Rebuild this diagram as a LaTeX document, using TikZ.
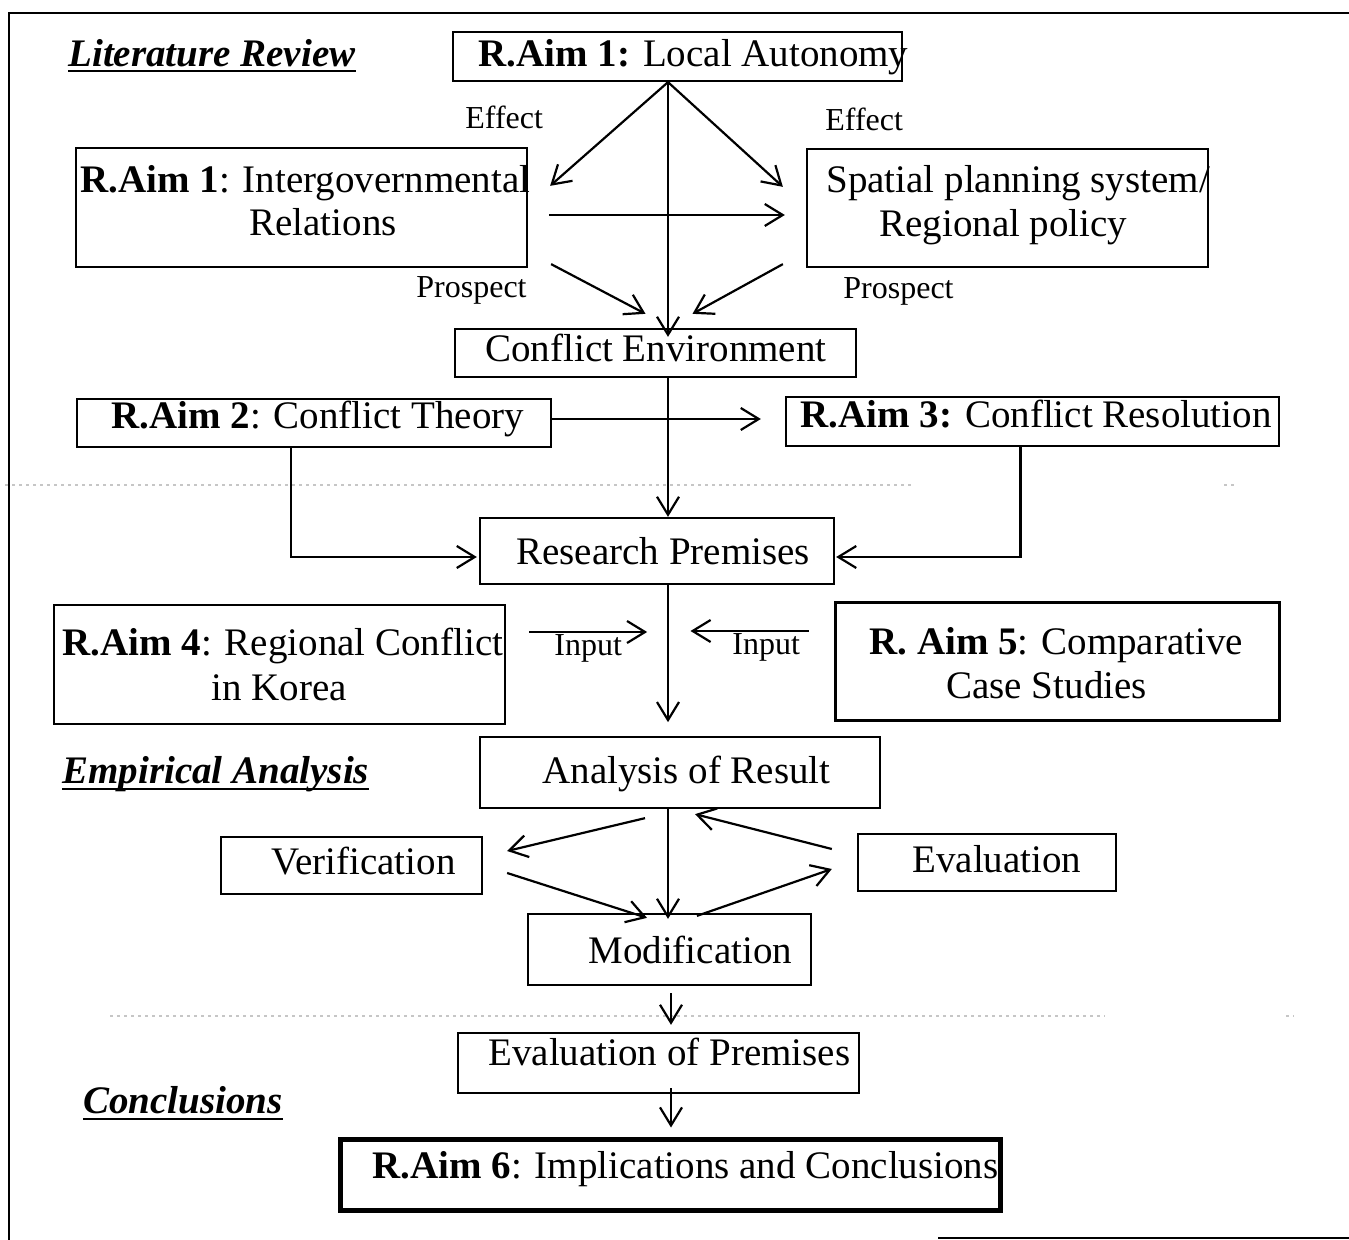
\documentclass[tikz,border=0pt]{standalone}
\usepackage{fontspec}
\setmainfont{Liberation Serif}
\usetikzlibrary{arrows.meta,calc,fit}
\newcommand\bodysize{\fontsize{19.5pt}{22.5pt}\selectfont}
\newcommand\labelsize{\fontsize{16pt}{18pt}\selectfont}
\begin{document}
\begin{tikzpicture}[x=0.5pt,y=-0.5pt,
  box/.style={draw, line width=1.15pt, inner sep=0pt, rectangle},
  txt/.style={font=\bodysize, inner sep=0pt, anchor=base west},
  lbl/.style={font=\labelsize, inner sep=0pt, anchor=base west},
  head/.style={font=\bodysize\bfseries\itshape, inner sep=0pt, anchor=base west},
  arr/.style={line width=1.1pt, -{Straight Barb[length=9pt,width=11pt]}},
  uline/.style={line width=1.1pt},
  frame/.style={line width=1.1pt},
  scanline/.style={gray!45, line width=0.6pt, dash pattern=on 1.5pt off 2pt}]
\useasboundingbox (0,0) rectangle (1349,1240);

% outer frame
\draw[frame] (1349,13) -- (9,13) -- (9,1240);
\draw[frame] (938,1238) -- (1349,1238);

% faint separator traces
\draw[scanline] (5,485) -- (915,485);
\draw[scanline] (1224,485) -- (1236,485);
\draw[scanline] (110,1016) -- (1105,1016);
\draw[scanline] (1286,1016) -- (1294,1016);

% boxes
\node[box, fit={(453,32) (902,81)}] (a1) {};
\node[box, fit={(76,148) (527,267)}] (igr) {};
\node[box, fit={(807,149) (1208,267)}] (sps) {};
\node[box, fit={(455,329) (856,377)}] (ce) {};
\node[box, fit={(77,399) (551,447)}] (a2) {};
\node[box, fit={(786,397) (1279,446)}] (a3) {};
\node[box, fit={(480,518) (834,584)}] (rp) {};
\node[box, fit={(54,605) (505,724)}] (a4) {};
\node[box, line width=1.5pt, fit={(835,603) (1279,720)}] (a5) {};
\node[box, fit={(480,737) (880,808)}] (ar) {};
\node[box, fit={(221,837) (482,894)}] (ver) {};
\node[box, fit={(858,834) (1116,891)}] (eva) {};
\node[box, fit={(528,914) (811,985)}] (mod) {};
\node[box, fit={(458,1033) (859,1093)}] (ep) {};
\node[box, line width=2.5pt, fit={(340,1139) (1000,1210)}] (a6) {};

% box texts
\node[txt] (a1t) at (478,67) {\textbf{R.Aim 1:} Local Autonomy};
\node[txt] (igr1) at (80,193) {\textbf{R.Aim 1}: Intergovernmental};
\node[txt] (igr2) at (249,236) {Relations};
\node[txt] (sps1) at (826,193) {Spatial planning system/};
\node[txt] (sps2) at (879,237) {Regional policy};
\node[txt] (cet) at (485,362) {Conflict Environment};
\node[txt] (a2t) at (111,429) {\textbf{R.Aim 2}: Conflict Theory};
\node[txt] (a3t) at (800,428) {\textbf{R.Aim 3:} Conflict Resolution};
\node[txt] (rpt) at (516,565) {Research Premises};
\node[txt] (a4a) at (62,655) {\textbf{R.Aim 4}: Regional Conflict};
\node[txt] (a4b) at (211,700) {in Korea};
\node[txt] (a5a) at (869,654) {\textbf{R. Aim 5}: Comparative};
\node[txt] (a5b) at (946,698) {Case Studies};
\node[txt] (art) at (542,783) {Analysis of Result};
\node[txt] (vert) at (271,874) {Verification};
\node[txt] (evat) at (912,872) {Evaluation};
\node[txt] (modt) at (588,963) {Modification};
\node[txt] (ept) at (488,1065) {Evaluation of Premises};
\node[txt] (a6t) at (372,1178) {\textbf{R.Aim 6}: Implications and Conclusions};

% section headings
\node[head] (lit) at (68,67) {Literature Review};
\draw[uline] ($(lit.base west)+(0,4)$) -- ($(lit.base east)+(0,4)$);
\node[head] (emp) at (62,783) {Empirical Analysis};
\draw[uline] ($(emp.base west)+(0,6)$) -- ($(emp.base east)+(0,6)$);
\node[head] (conc) at (83,1113) {Conclusions};
\draw[uline] ($(conc.base west)+(0,6)$) -- ($(conc.base east)+(0,6)$);

% connector labels
\node[lbl] (eff1) at (465,129) {Effect};
\node[lbl] (eff2) at (825,131) {Effect};
\node[lbl] (pro1) at (416,298) {Prospect};
\node[lbl] (pro2) at (843,299) {Prospect};
\node[lbl] (in1) at (554,655) {Input};
\node[lbl] (in2) at (732,654) {Input};

% connectors: literature review
\coordinate (apex) at ($(a1.south)+(-9.5,0)$);
\draw[arr] (apex) -- ($(igr.north east)+(22,39)$);
\draw[arr] (apex) -- ($(sps.north west)+(-23,39)$);
\draw[arr] (apex) -- ($(apex |- ce.north)+(0,9)$);
\draw[arr] ($(igr.east)+(21,7.5)$) -- ($(sps.west)+(-21,7)$);
\draw[arr] ($(igr.south east)+(23,-4)$) -- ($(ce.north)+(-10,-14)$);
\draw[arr] ($(sps.south west)+(-23,-4)$) -- ($(ce.north)+(37,-14)$);
\draw[arr] (ce.south -| apex) -- (rp.north -| apex);
\draw[arr] ($(a2.east)+(0,-4)$) -- ($(a3.west)+(-24,-2.5)$);
\draw[arr] ($(a2.south)+(-23,0)$) |- ($(rp.west)+(-2,6)$);
\draw[arr] ($(a3.south)+(-12,0)$) |- ($(rp.east)+(1,6)$);
\draw[arr] (rp.south -| apex) -- ++(0,137);
\draw[arr] ($(a4.east)+(23,-32.5)$) -- ($(a4.east)+(141,-32.5)$);
\draw[arr] ($(a5.west)+(-25,-30.5)$) -- ($(a5.west)+(-143,-30.5)$);

% connectors: empirical analysis
\draw[arr] ($(ar.south)+(-35,9)$) -- ($(ver.east)+(24,-14.5)$);
\draw[arr] (ar.south -| apex) -- ($(mod.north -| apex)+(0,6)$);
\draw[arr] ($(eva.west)+(-25,-13.5)$) -- ($(ar.south)+(15,5)$);
\draw[arr] ($(ver.east)+(24,7.5)$) -- ($(mod.north)+(-22.5,5)$);
\draw[arr] ($(mod.north)+(27.5,3)$) -- ($(eva.west)+(-25,6.5)$);

% connectors: conclusions
\draw[arr] ($(mod.south)+(1.5,7)$) -- ($(ep.north)+(12.5,-7)$);
\draw[arr] ($(ep.south)+(12.5,-6)$) -- ($(a6.north)+(1,-9)$);
\end{tikzpicture}
\end{document}
